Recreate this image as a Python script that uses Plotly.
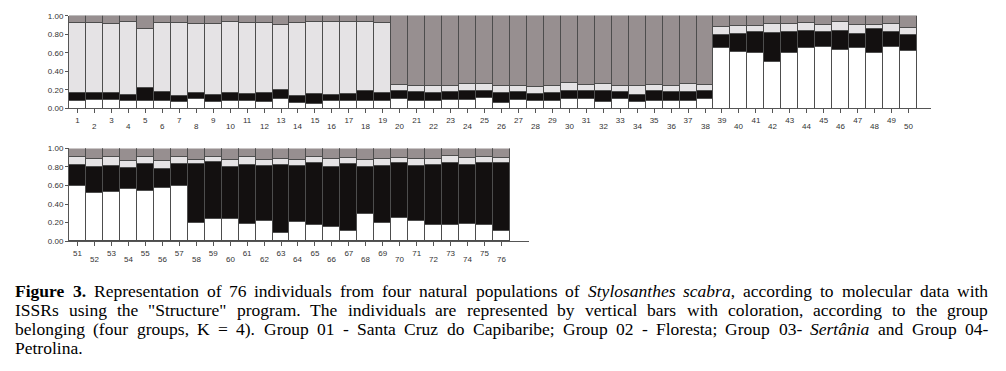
import re
import plotly.graph_objects as go

# ---------------- data (membership proportions per individual, K = 4) ----------------
ind_top = list(range(1, 51))
ind_bot = list(range(51, 77))

white_top = [0.08, 0.09, 0.09, 0.08, 0.08, 0.08, 0.07, 0.10, 0.07, 0.08,
             0.08, 0.07, 0.10, 0.06, 0.05, 0.08, 0.08, 0.08, 0.08, 0.10,
             0.08, 0.08, 0.09, 0.09, 0.12, 0.06, 0.09, 0.08, 0.08, 0.10,
             0.10, 0.07, 0.10, 0.07, 0.08, 0.08, 0.08, 0.10, 0.66, 0.61,
             0.60, 0.50, 0.60, 0.66, 0.67, 0.63, 0.65, 0.60, 0.67, 0.62]
black_top = [0.09, 0.08, 0.08, 0.07, 0.14, 0.10, 0.07, 0.07, 0.08, 0.09,
             0.08, 0.10, 0.10, 0.08, 0.11, 0.07, 0.08, 0.11, 0.09, 0.09,
             0.10, 0.09, 0.09, 0.10, 0.07, 0.11, 0.09, 0.08, 0.09, 0.09,
             0.09, 0.12, 0.08, 0.08, 0.11, 0.10, 0.10, 0.09, 0.14, 0.20,
             0.23, 0.32, 0.23, 0.175, 0.16, 0.205, 0.16, 0.255, 0.16, 0.17]
light_top = [0.75, 0.75, 0.74, 0.78, 0.64, 0.74, 0.78, 0.74, 0.76, 0.76,
             0.76, 0.75, 0.70, 0.78, 0.77, 0.78, 0.77, 0.75, 0.75, 0.07,
             0.07, 0.08, 0.07, 0.08, 0.08, 0.08, 0.07, 0.07, 0.08, 0.09,
             0.07, 0.08, 0.07, 0.10, 0.07, 0.07, 0.09, 0.07, 0.08, 0.085,
             0.06, 0.09, 0.08, 0.085, 0.075, 0.105, 0.095, 0.05, 0.08, 0.08]
dark_top = [0.08, 0.08, 0.09, 0.07, 0.14, 0.08, 0.08, 0.09, 0.09, 0.07,
            0.08, 0.08, 0.10, 0.08, 0.07, 0.07, 0.07, 0.06, 0.08, 0.74,
            0.75, 0.75, 0.75, 0.73, 0.73, 0.75, 0.75, 0.77, 0.75, 0.72,
            0.74, 0.73, 0.75, 0.75, 0.74, 0.75, 0.73, 0.74, 0.12, 0.105,
            0.11, 0.09, 0.09, 0.08, 0.095, 0.06, 0.095, 0.095, 0.09, 0.13]

white_bot = [0.59, 0.51, 0.52, 0.56, 0.54, 0.57, 0.59, 0.19, 0.23, 0.23,
             0.175, 0.21, 0.085, 0.20, 0.17, 0.145, 0.11, 0.29, 0.19, 0.24,
             0.21, 0.17, 0.165, 0.18, 0.165, 0.11]
black_bot = [0.23, 0.28, 0.29, 0.22, 0.285, 0.205, 0.235, 0.635, 0.62, 0.56,
             0.645, 0.60, 0.735, 0.61, 0.67, 0.645, 0.72, 0.51, 0.62, 0.60,
             0.60, 0.65, 0.67, 0.64, 0.67, 0.725]
light_bot = [0.085, 0.095, 0.09, 0.075, 0.075, 0.085, 0.08, 0.05, 0.055, 0.085,
             0.08, 0.065, 0.065, 0.065, 0.06, 0.095, 0.065, 0.07, 0.075, 0.055,
             0.075, 0.065, 0.075, 0.07, 0.065, 0.055]
dark_bot = [0.095, 0.115, 0.10, 0.145, 0.10, 0.14, 0.095, 0.125, 0.095, 0.125,
            0.10, 0.125, 0.115, 0.125, 0.10, 0.115, 0.105, 0.13, 0.115, 0.105,
            0.115, 0.115, 0.09, 0.11, 0.10, 0.11]

y_ticks = [0, 0.2, 0.4, 0.6, 0.8, 1.0]
y_tick_labels = ["0.00", "0.20", "0.40", "0.60", "0.80", "1.00"]

caption_lines = [
    "<b>Figure</b> <b>3.</b> Representation of 76 individuals from four natural populations of "
    "<i>Stylosanthes</i> <i>scabra</i>, according to molecular data with",
    'ISSRs using the "Structure" program. The individuals are represented by vertical bars '
    "with coloration, according to the group",
    "belonging (four groups, K = 4). Group 01 - Santa Cruz do Capibaribe; Group 02 - Floresta; "
    "Group 03- <i>Sertânia</i> and Group 04-",
    "Petrolina.",
]

# ---------------- layout constants ----------------
W, H = 1006, 371
COLORS = {"white": "#ffffff", "black": "#131010", "light": "#e5e3e5", "dark": "#978f90"}
EDGE = "#4d4d4d"
AXC = "#555555"
TICKFONT = dict(family="Liberation Sans, Arial, sans-serif", size=8, color="#333333")
BAR_PX = 16.96


def py(pix):
    return 1 - pix / H


fig = go.Figure()

panels = [
    ("x", "y", ind_top, [white_top, black_top, light_top, dark_top]),
    ("x2", "y2", ind_bot, [white_bot, black_bot, light_bot, dark_bot]),
]
for xa, ya, inds, comps in panels:
    for name, vals in zip(["white", "black", "light", "dark"], comps):
        fig.add_trace(go.Bar(
            x=inds, y=vals, xaxis=xa, yaxis=ya, width=1,
            marker=dict(color=COLORS[name], line=dict(color=EDGE, width=1)),
            showlegend=False, hoverinfo="skip"))

def xaxis_cfg(inds, dom_px, first):
    x0, x1 = dom_px
    span = (x1 - x0) / BAR_PX
    return dict(domain=[x0 / W, x1 / W], range=[first - 0.5, first - 0.5 + span],
                tickvals=inds, ticktext=[str(i) if i % 2 == 1 else "" for i in inds],
                ticks="outside", ticklen=4, tickcolor=AXC, showline=True, linecolor=AXC,
                linewidth=1, showgrid=False, zeroline=False, tickfont=TICKFONT, tickangle=0)

def yaxis_cfg(dom_px):
    ybot, ytop = dom_px
    return dict(domain=[py(ybot), py(ytop)], range=[0, 1], tickvals=y_ticks,
                ticktext=y_tick_labels, ticks="outside", ticklen=3, tickcolor=AXC,
                showline=True, linecolor=AXC, linewidth=1, showgrid=False, zeroline=False,
                tickfont=TICKFONT)

fig.update_layout(
    xaxis=xaxis_cfg(ind_top, (69, 931), 1),
    yaxis=dict(yaxis_cfg((107, 12)), anchor="x"),
    xaxis2=dict(xaxis_cfg(ind_bot, (69, 529), 51), anchor="y2"),
    yaxis2=dict(yaxis_cfg((243, 148)), anchor="x2"),
)

annotations = []
# even x labels on a second row
for xa, inds, ybot in (("x", ind_top, 107), ("x2", ind_bot, 243)):
    for i in inds:
        if i % 2 == 0:
            annotations.append(dict(x=i, y=py(ybot), xref=xa, yref="paper", text=str(i),
                                    showarrow=False, yanchor="middle", xanchor="center",
                                    yshift=-18, font=TICKFONT))

# ---------------- caption (justified, Times metrics) ----------------
REG = {" ": 250, "!": 333, '"': 408, "(": 333, ")": 333, ",": 250, "-": 333, ".": 250,
       ":": 278, ";": 278, "=": 564, "â": 444}
for c in "0123456789":
    REG[c] = 500
REG.update(dict(zip("ABCDEFGHIJKLMNOPQRSTUVWXYZ",
                    [722, 667, 667, 722, 611, 556, 722, 722, 333, 389, 722, 611, 889,
                     722, 722, 556, 722, 667, 556, 611, 722, 722, 944, 722, 722, 611])))
REG.update(dict(zip("abcdefghijklmnopqrstuvwxyz",
                    [444, 500, 444, 500, 444, 333, 500, 500, 278, 278, 500, 278, 778,
                     500, 500, 500, 500, 333, 389, 278, 500, 500, 722, 500, 500, 444])))
BOLD = dict(REG)
BOLD.update({"F": 611, "u": 556, "r": 444, "g": 500})
ITAL = dict(REG)
ITAL.update({"S": 500, "y": 444, "a": 500, "r": 389, "â": 500, "c": 444, "e": 444})
CAP_SIZE = 17.5


def word_width(word):
    style = REG
    w = 0
    for part in re.split(r"(</?[bi]>)", word):
        if part in ("<b>",):
            style = BOLD
        elif part == "<i>":
            style = ITAL
        elif part in ("</b>", "</i>"):
            style = REG
        else:
            w += sum(style.get(ch, 500) for ch in part)
    return w * CAP_SIZE / 1000


line_y = [294, 313.5, 333, 352.5]
left_px, right_px = 14, 987
capfont = dict(family="Liberation Serif, Times New Roman, serif", size=CAP_SIZE, color="#000000")
for li, (line, ypx) in enumerate(zip(caption_lines, line_y)):
    words = line.split(" ")
    widths = [word_width(w) for w in words]
    if li < 3 and len(words) > 1:
        gap = (right_px - left_px - sum(widths)) / (len(words) - 1)
    else:
        gap = REG[" "] * CAP_SIZE / 1000
    x = left_px
    for w, wd in zip(words, widths):
        annotations.append(dict(x=x / W, y=py(ypx), xref="paper", yref="paper", text=w,
                                showarrow=False, xanchor="left", yanchor="middle",
                                borderpad=0, font=capfont))
        x += wd + gap

fig.update_layout(
    annotations=annotations,
    barmode="stack", bargap=0,
    width=W, height=H, margin=dict(l=0, r=0, t=0, b=0),
    paper_bgcolor="white", plot_bgcolor="white",
    showlegend=False,
)

fig.write_html("out.html", config={"displayModeBar": False},
               post_script="document.body.style.margin='0';document.body.style.padding='0';")
